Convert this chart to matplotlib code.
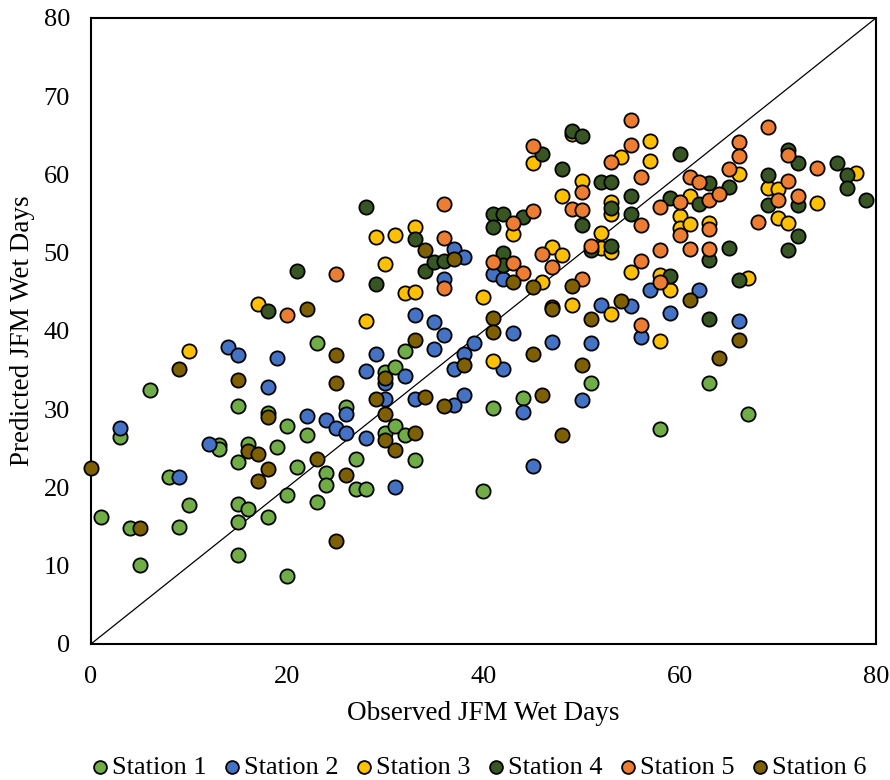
import matplotlib
matplotlib.use('Agg')
import matplotlib.pyplot as plt

plt.rcParams['font.family'] = ['Liberation Serif', 'DejaVu Serif']

# observed (x) and predicted (y) wet days per station
s1_x = [1, 3, 4, 5, 6, 8, 9, 10, 13, 13, 15, 15, 15, 15, 15, 16, 16, 18, 18, 19, 20, 20, 20, 21, 22, 23, 23, 24, 24, 26,
        27, 27, 28, 30, 30, 31, 31, 32, 32, 33, 40, 41, 44, 51, 58, 63, 67]
s1_y = [16.2, 26.4, 14.8, 10.1, 32.4, 21.4, 14.9, 17.7, 25.4, 24.9, 30.4, 23.2, 17.9, 15.6, 11.4, 25.5, 17.2, 29.5, 16.2,
        25.2, 27.8, 19.1, 8.7, 22.6, 26.7, 38.5, 18.1, 21.9, 20.3, 30.3, 23.7, 19.8, 19.8, 34.8, 26.9, 35.4, 27.9, 37.5,
        26.7, 23.5, 19.6, 30.1, 31.4, 33.3, 27.5, 33.4, 29.4]

s2_x = [3, 9, 12, 14, 15, 18, 19, 22, 24, 25, 26, 26, 28, 28, 29, 30, 30, 31, 32, 33, 33, 35, 35, 36, 36, 37, 37, 37,
        38, 38, 38, 39, 41, 42, 42, 43, 44, 45, 47, 50, 51, 52, 55, 56, 57, 59, 62, 66]
s2_y = [27.6, 21.3, 25.5, 38.0, 36.9, 32.9, 36.6, 29.1, 28.6, 27.6, 29.4, 26.9, 34.9, 26.3, 37.1, 33.3, 31.3, 20.0, 34.2,
        42.1, 31.3, 41.2, 37.7, 39.5, 46.7, 50.5, 35.1, 30.6, 49.5, 37.1, 31.8, 38.4, 47.3, 46.6, 35.2, 39.7, 29.6, 22.7,
        38.6, 31.2, 38.4, 43.3, 43.2, 39.2, 45.2, 42.3, 45.2, 41.3]

s3_x = [10, 17, 28, 29, 30, 31, 32, 33, 33, 40, 41, 43, 45, 46, 47, 48, 48, 49, 49, 50, 52, 52, 53, 53, 53, 53, 54, 55,
        57, 57, 58, 58, 59, 60, 60, 61, 61, 63, 66, 67, 69, 70, 70, 71, 74, 78]
s3_y = [37.4, 43.4, 41.3, 52.0, 48.5, 52.3, 44.9, 53.3, 45.0, 44.4, 36.1, 52.4, 61.5, 46.3, 50.7, 57.2, 49.7, 65.2, 43.3,
        59.2, 52.5, 50.6, 56.5, 55.0, 50.1, 42.2, 62.2, 47.5, 64.3, 61.7, 47.1, 38.7, 45.2, 54.7, 53.2, 57.2, 53.7, 53.8,
        60.1, 46.8, 58.3, 58.2, 54.4, 53.8, 56.3, 60.2]

s4_x = [18, 21, 28, 29, 33, 34, 35, 36, 41, 41, 42, 42, 42, 44, 46, 48, 49, 50, 50, 51, 52, 53, 53, 53, 55, 55, 59, 59,
        60, 62, 63, 63, 63, 65, 65, 66, 69, 69, 71, 71, 72, 72, 72, 76, 77, 77, 79]
s4_y = [42.6, 47.6, 55.8, 46.0, 51.8, 47.6, 48.8, 49.0, 55.0, 53.3, 55.0, 49.9, 48.4, 54.6, 62.6, 60.7, 65.6, 64.9, 53.5,
        50.4, 59.0, 59.0, 55.7, 50.9, 57.2, 55.0, 57.0, 47.0, 62.6, 56.2, 58.9, 49.1, 41.5, 58.4, 50.6, 46.5, 59.9, 56.1,
        63.1, 50.4, 61.4, 56.1, 52.1, 61.5, 59.9, 58.3, 56.7]

s5_x = [20, 25, 36, 36, 36, 41, 43, 43, 44, 45, 45, 46, 47, 47, 49, 50, 50, 50, 51, 53, 55, 55, 56, 56, 56, 56, 58, 58,
        58, 60, 60, 61, 61, 62, 63, 63, 63, 64, 65, 66, 66, 68, 69, 70, 71, 71, 72, 74]
s5_y = [42.0, 47.3, 56.2, 51.9, 45.5, 48.8, 53.8, 48.7, 47.4, 63.6, 55.3, 49.8, 48.2, 43.1, 55.6, 57.7, 55.5, 46.6, 50.9,
        61.6, 67.0, 63.7, 59.7, 53.5, 48.9, 40.8, 55.9, 50.4, 46.2, 56.5, 52.3, 59.7, 50.5, 59.0, 56.7, 53.0, 50.5, 57.5,
        60.7, 64.2, 62.4, 53.9, 66.1, 56.7, 62.5, 59.1, 57.3, 60.8]

s6_x = [0, 5, 9, 15, 16, 17, 17, 18, 18, 22, 23, 25, 25, 25, 26, 29, 30, 30, 30, 31, 33, 33, 34, 34, 36, 37, 38, 41,
        41, 43, 45, 45, 46, 47, 48, 49, 50, 51, 54, 61, 64, 66]
s6_y = [22.5, 14.8, 35.1, 33.7, 24.6, 24.3, 20.8, 29.0, 22.3, 42.8, 23.6, 36.9, 33.4, 13.1, 21.6, 31.3, 34.0, 29.4, 26.1,
        24.8, 38.9, 27.0, 50.4, 31.5, 30.4, 49.2, 35.6, 41.6, 39.9, 46.3, 45.6, 37.1, 31.8, 42.8, 26.7, 45.7, 35.6, 41.5,
        43.8, 44.0, 36.5, 38.9]

names = ['Station 1', 'Station 2', 'Station 3', 'Station 4', 'Station 5', 'Station 6']
colors = ['#70AD47', '#4472C4', '#FFC000', '#375623', '#ED7D31', '#7F6000']
xs = [s1_x, s2_x, s3_x, s4_x, s5_x, s6_x]
ys = [s1_y, s2_y, s3_y, s4_y, s5_y, s6_y]

fig = plt.figure(figsize=(8.9, 7.8), dpi=100)
ax = fig.add_axes([0.1022, 0.1744, 0.8821, 0.8026])

for x, y, c, n in zip(xs, ys, colors, names):
    ax.scatter(x, y, s=105, color=c, edgecolors='black', linewidths=1.3, label=n, zorder=3, clip_on=False)

ax.plot([0, 80], [0, 80], color='black', linewidth=0.9, zorder=2)

ax.set_xlim(0, 80)
ax.set_ylim(0, 80)
ax.set_xticks(range(0, 81, 20))
ax.set_yticks(range(0, 81, 10))
ax.tick_params(length=0, labelsize=19)
ax.tick_params(axis='x', pad=16)
ax.tick_params(axis='y', pad=15)
for sp in ax.spines.values():
    sp.set_linewidth(1.5)
ax.set_xlabel('Observed JFM Wet Days', fontsize=19.5, labelpad=9)
ax.set_ylabel('Predicted JFM Wet Days', fontsize=19.5, labelpad=6)

fig.legend(loc='center', bbox_to_anchor=(0.539, 0.016), ncol=6, frameon=False, fontsize=19,
           handlelength=0.5, handletextpad=0.2, columnspacing=0.72, markerscale=0.9, borderaxespad=0)

fig.savefig('out.png', dpi=100)
